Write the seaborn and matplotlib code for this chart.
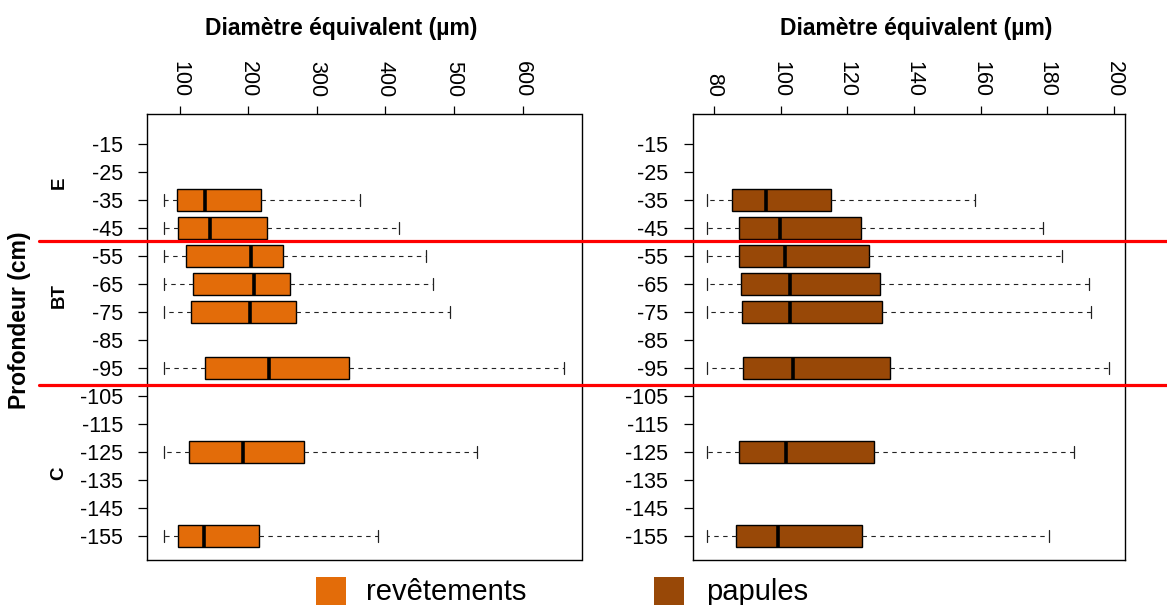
import numpy as np
import pandas as pd
import matplotlib
matplotlib.use("Agg")
import matplotlib.pyplot as plt
import matplotlib.transforms as mtransforms
from matplotlib.lines import Line2D
from matplotlib.patches import Rectangle
import seaborn as sns

sns.set_style("ticks")
plt.rcParams['font.family'] = ['Liberation Sans', 'DejaVu Sans']
plt.rcParams['text.color'] = 'black'
plt.rcParams['xtick.color'] = 'black'
plt.rcParams['ytick.color'] = 'black'
plt.rcParams['axes.edgecolor'] = 'black'

# depths (cm) of the sampled levels
depths = [-35, -45, -55, -65, -75, -95, -125, -155]
depth_ticks = list(range(-15, -156, -10))

# revêtements: five-number summaries (min, Q1, median, Q3, max), µm
rev_min = [77, 77, 77, 77, 77, 77, 77, 77]
rev_q1 = [96, 98, 109, 120, 117, 137, 114, 98]
rev_med = [137, 144, 204, 208, 203, 230, 192, 136]
rev_q3 = [218, 227, 250, 261, 269, 347, 282, 215]
rev_max = [363, 420, 459, 470, 494, 661, 534, 389]

# papules: five-number summaries, µm
pap_min = [78, 78, 78, 78, 78, 78, 78, 78]
pap_q1 = [85.5, 87.5, 87.6, 88.0, 88.4, 88.8, 87.5, 86.7]
pap_med = [95.7, 99.9, 101.2, 102.8, 102.8, 103.8, 101.6, 99.3]
pap_q3 = [115.0, 124.0, 126.6, 129.8, 130.5, 132.7, 127.9, 124.5]
pap_max = [158.3, 178.8, 184.3, 192.5, 193.2, 198.4, 188.0, 180.6]

rev_ticks = [100, 200, 300, 400, 500, 600]
pap_ticks = [80, 100, 120, 140, 160, 180, 200]

# horizon limits and labels
horizon_limits = [-49.5, -101]
horizons = ['E', 'BT', 'C']
horizon_pos = [-29, -69, -132.5]

series_labels = ['revêtements', 'papules']
series_colors = ['#E36C09', '#984807']

title = 'Diamètre équivalent (µm)'


def five_number_frame(mins, q1, med, q3, maxs):
    rows = []
    for i, d in enumerate(depths):
        for v in (mins[i], q1[i], med[i], q3[i], maxs[i]):
            rows.append((d, v))
    return pd.DataFrame(rows, columns=['Profondeur', 'Diametre'])


df_rev = five_number_frame(rev_min, rev_q1, rev_med, rev_q3, rev_max)
df_pap = five_number_frame(pap_min, pap_q1, pap_med, pap_q3, pap_max)

W, H = 1167, 605
fig = plt.figure(figsize=(W / 100, H / 100), dpi=100)
ax1 = fig.add_axes([147.3 / W, 1 - 560 / H, 434.2 / W, 446 / H])
ax2 = fig.add_axes([692.5 / W, 1 - 560 / H, 432.5 / W, 446 / H])

panels = [
    (ax1, df_rev, series_colors[0], rev_ticks, (52.8, 686)),
    (ax2, df_pap, series_colors[1], pap_ticks, (73.6, 203.3)),
]

for ax, df, col, ticks, xlim in panels:
    sns.boxplot(data=df, x='Diametre', y='Profondeur', orient='y', native_scale=True,
                whis=(0, 100), color=col, saturation=1, width=0.8,
                linecolor='black', linewidth=1, showfliers=False,
                medianprops=dict(linewidth=2.6, color='black'),
                whiskerprops=dict(linestyle=(0, (4, 4)), linewidth=0.8, color='#222222'),
                capprops=dict(linewidth=0.9, color='#222222'),
                ax=ax)
    # R-style staples: half the box height
    for ln in ax.lines:
        xd, yd = np.asarray(ln.get_xdata(), float), np.asarray(ln.get_ydata(), float)
        if len(xd) == 2 and xd[0] == xd[1] and 0 < abs(yd[1] - yd[0]) < 7:
            c = yd.mean()
            ln.set_ydata([c - 2.2, c + 2.2])
    ax.set_xlim(*xlim)
    ax.set_ylim(-163.6, -4.3)
    ax.set_xticks(ticks)
    ax.set_yticks(depth_ticks)
    ax.set_yticklabels([str(t) for t in depth_ticks])
    ax.set_xlabel('')
    ax.set_ylabel('')
    ax.xaxis.tick_top()
    ax.tick_params(axis='x', top=True, bottom=False, labeltop=True, labelbottom=False,
                   labelrotation=-90, length=6, pad=6, labelsize=15.5, width=0.9)
    ax.tick_params(axis='y', length=6.5, pad=11, labelsize=15.5, width=0.9)
    for s in ax.spines.values():
        s.set_visible(True)
        s.set_linewidth(1.0)
        s.set_color('black')

# titles above each panel
fig.text(341 / W, 1 - 28 / H, title, ha='center', va='center', fontsize=16.5, fontweight='bold')
fig.text(916 / W, 1 - 28 / H, title, ha='center', va='center', fontsize=16.5, fontweight='bold')

# y label and horizon names
fig.text(20 / W, 1 - 320 / H, 'Profondeur (cm)', rotation=90, ha='center', va='center',
         fontsize=16.5, fontweight='bold')
trans_h = mtransforms.blended_transform_factory(fig.transFigure, ax1.transData)
for name, pos in zip(horizons, horizon_pos):
    fig.text(59 / W, pos, name, rotation=90, ha='center', va='center', fontsize=13.5,
             fontweight='bold', transform=trans_h)

# red horizon boundaries across the figure
for lim in horizon_limits:
    fig.add_artist(Line2D([39 / W, 1], [lim, lim], color='#FF0000', linewidth=2.3,
                          transform=trans_h, clip_on=False))

# legend at the bottom
for x0, tx, lab, col in zip([316, 654], [366, 706], series_labels, series_colors):
    fig.add_artist(Rectangle((x0 / W, 1 - 607 / H), 30 / W, 30 / H, facecolor=col,
                             edgecolor='none', transform=fig.transFigure))
    fig.text(tx / W, 1 - 600 / H, lab, ha='left', va='baseline', fontsize=21)

fig.savefig('out.png', dpi=100)
